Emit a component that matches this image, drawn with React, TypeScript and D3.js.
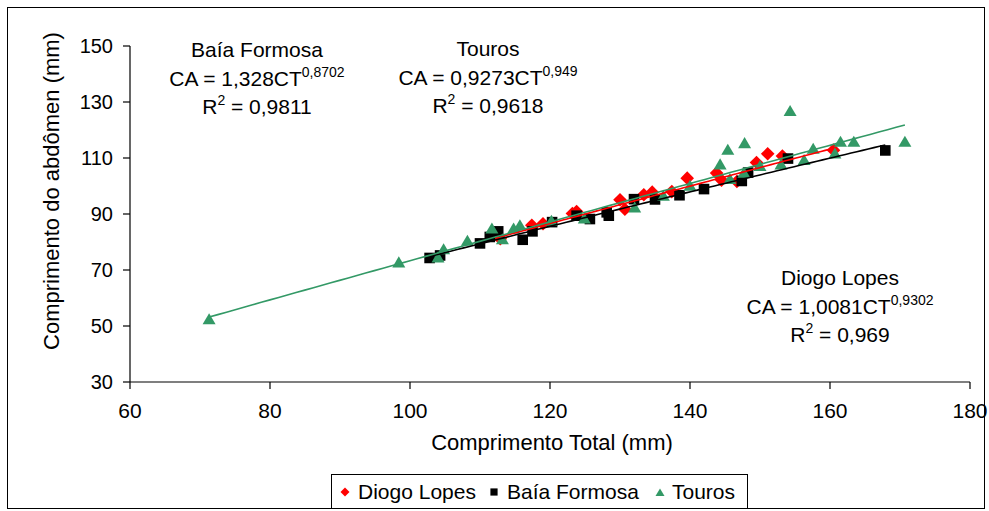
import React from "react";
import * as d3 from "d3";

// Comprimento total (CT) x comprimento do abdômen (CA), mm
const diogoCT = [112.9, 117.4, 119.0, 123.2, 123.8, 130.0, 130.7, 133.4, 134.6, 137.4, 139.6, 143.8, 144.5, 146.7, 149.5, 151.1, 153.2, 160.5];
const diogoCA = [81.2, 86.0, 86.5, 90.2, 90.9, 95.1, 91.7, 96.9, 97.8, 98.0, 102.8, 104.6, 102.1, 101.6, 108.4, 111.5, 110.7, 112.8];

const baiaCT = [102.8, 104.3, 110.0, 111.4, 112.6, 116.1, 117.5, 120.3, 123.8, 125.7, 128.1, 128.4, 132.0, 135.0, 138.5, 142.0, 147.4, 148.3, 154.0, 167.9];
const baiaCA = [74.3, 75.2, 79.5, 81.8, 83.8, 80.8, 83.8, 87.1, 89.4, 88.2, 90.6, 89.4, 95.3, 95.2, 96.7, 98.9, 101.8, 104.8, 109.8, 112.7];

const tourosCT = [71.3, 98.4, 104.0, 104.8, 108.2, 111.7, 113.2, 114.8, 115.7, 120.2, 124.9, 132.1, 136.2, 140.0, 144.3, 145.4, 145.7, 147.7, 147.8, 150.0, 153.0, 154.3, 156.3, 157.6, 160.7, 161.5, 163.4, 170.7];
const tourosCA = [52.2, 72.5, 74.3, 77.2, 80.2, 84.6, 80.8, 84.6, 85.8, 87.4, 88.2, 92.1, 96.3, 99.9, 107.5, 112.7, 102.3, 104.5, 115.1, 106.9, 107.5, 126.6, 109.1, 113.1, 111.4, 115.6, 115.6, 115.6];

// Power fits CA = a·CT^b
const fitCoef = { diogo: 1.0081, baia: 1.328, touros: 0.9273 };
const fitExp = { diogo: 0.9302, baia: 0.8702, touros: 0.949 };

const xTicks = [60, 80, 100, 120, 140, 160, 180];
const yTicks = [30, 50, 70, 90, 110, 130, 150];

const RED = "#ff0000";
const BLACK = "#000000";
const GREEN = "#339966";
const FONT = "'Liberation Sans', Arial, sans-serif";

const x = d3.scaleLinear().domain([60, 180]).range([130, 970]);
const y = d3.scaleLinear().domain([30, 150]).range([382, 46]);

const trend = (a: number, b: number, xs: number[]) => {
  const lo = d3.min(xs) as number;
  const hi = d3.max(xs) as number;
  const pts = d3.range(0, 81).map((i) => lo + ((hi - lo) * i) / 80);
  const line = d3
    .line<number>()
    .x((v) => x(v))
    .y((v) => y(a * Math.pow(v, b)));
  return line(pts) as string;
};

const diamond = (r: number) => `M0,${-r}L${r},0L0,${r}L${-r},0Z`;
const square = (h: number) => `M${-h},${-h}H${h}V${h}H${-h}Z`;
const triangle = (w: number) => {
  const h = w * 0.85;
  return `M0,${-h * 0.6}L${w / 2},${h * 0.4}L${-w / 2},${h * 0.4}Z`;
};

function Equation({ cx, top, title, coef, exp, r2 }: { cx: number; top: number; title: string; coef: string; exp: string; r2: string }) {
  return (
    <g fontFamily={FONT} fill="#000" textAnchor="middle">
      <text x={cx} y={top} fontSize={21}>{title}</text>
      <text x={cx} y={top + 28.5} fontSize={21}>
        {`CA = ${coef}CT`}
        <tspan fontSize={14} dy={-9}>{exp}</tspan>
      </text>
      <text x={cx} y={top + 57} fontSize={21}>
        R<tspan fontSize={14} dy={-9}>2</tspan>
        <tspan dy={9}>{` = ${r2}`}</tspan>
      </text>
    </g>
  );
}

export default function App() {
  return (
    <svg width={989} height={511} style={{ position: "absolute", left: 0, top: 0, background: "#fff" }}>
      <rect x={7.5} y={7.5} width={977} height={501} fill="#fff" stroke="#000" strokeWidth={1} />

      {/* axes */}
      <g stroke="#000" strokeWidth={1.2}>
        <line x1={x(60)} x2={x(60)} y1={y(150)} y2={y(30)} />
        <line x1={x(60)} x2={x(180)} y1={y(30)} y2={y(30)} />
        {yTicks.map((t) => (
          <line key={"yt" + t} x1={x(60) - 7} x2={x(60)} y1={y(t)} y2={y(t)} />
        ))}
        {xTicks.map((t) => (
          <line key={"xt" + t} x1={x(t)} x2={x(t)} y1={y(30)} y2={y(30) + 7} />
        ))}
      </g>
      <g fontFamily={FONT} fill="#000">
        {yTicks.map((t) => (
          <text key={"yl" + t} x={113} y={y(t)} dy="0.35em" fontSize={20} textAnchor="end">{t}</text>
        ))}
        {xTicks.map((t) => (
          <text key={"xl" + t} x={x(t)} y={418} fontSize={21} textAnchor="middle">{t}</text>
        ))}
      </g>
      <text x={552} y={450} fontFamily={FONT} fontSize={22} textAnchor="middle">Comprimento Total (mm)</text>
      <text transform="translate(59,191) rotate(-90)" fontFamily={FONT} fontSize={22} textAnchor="middle">Comprimento do abdômen (mm)</text>

      {/* markers */}
      <g fill={RED}>
        {diogoCT.map((v, i) => (
          <path key={"d" + i} d={diamond(6.8)} transform={`translate(${x(v)},${y(diogoCA[i])})`} />
        ))}
      </g>
      <g fill={BLACK}>
        {baiaCT.map((v, i) => (
          <path key={"b" + i} d={square(5.3)} transform={`translate(${x(v)},${y(baiaCA[i])})`} />
        ))}
      </g>
      <g fill={GREEN}>
        {tourosCT.map((v, i) => (
          <path key={"t" + i} d={triangle(13)} transform={`translate(${x(v)},${y(tourosCA[i])})`} />
        ))}
      </g>

      {/* fitted curves */}
      <g fill="none" strokeWidth={1.6}>
        <path d={trend(fitCoef.diogo, fitExp.diogo, diogoCT)} stroke={RED} />
        <path d={trend(fitCoef.baia, fitExp.baia, baiaCT)} stroke={BLACK} />
        <path d={trend(fitCoef.touros, fitExp.touros, tourosCT)} stroke={GREEN} />
      </g>

      <Equation cx={257} top={57} title="Baía Formosa" coef="1,328" exp="0,8702" r2="0,9811" />
      <Equation cx={488} top={56} title="Touros" coef="0,9273" exp="0,949" r2="0,9618" />
      <Equation cx={840} top={285} title="Diogo Lopes" coef="1,0081" exp="0,9302" r2="0,969" />

      {/* legend */}
      <rect x={331.5} y={474.5} width={416} height={34} fill="#fff" stroke="#000" strokeWidth={1} />
      <g fontFamily={FONT} fontSize={21} fill="#000">
        <path d={diamond(4.5)} transform="translate(345,492)" fill={RED} />
        <text x={358} y={499}>Diogo Lopes</text>
        <path d={square(3.6)} transform="translate(494,492)" fill={BLACK} />
        <text x={507} y={499}>Baía Formosa</text>
        <path d={triangle(9)} transform="translate(660,493)" fill={GREEN} />
        <text x={672} y={499}>Touros</text>
      </g>
    </svg>
  );
}
